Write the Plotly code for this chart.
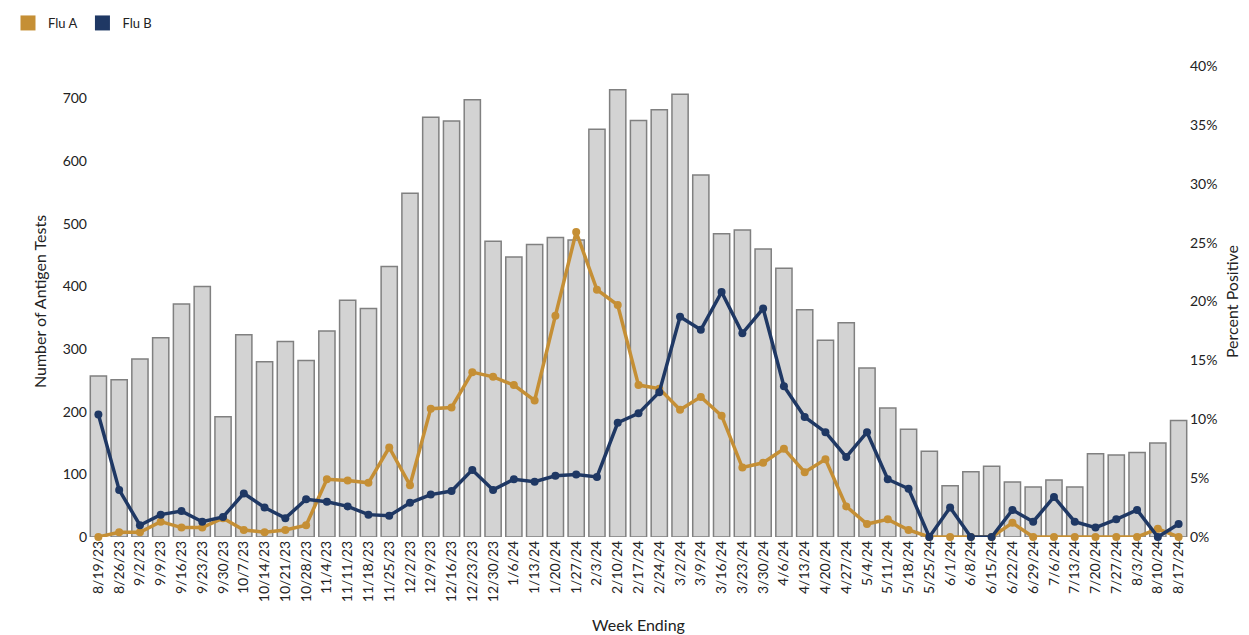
import plotly.graph_objects as go

weeks = ["8/19/23","8/26/23","9/2/23","9/9/23","9/16/23","9/23/23","9/30/23","10/7/23","10/14/23","10/21/23","10/28/23",
         "11/4/23","11/11/23","11/18/23","11/25/23","12/2/23","12/9/23","12/16/23","12/23/23","12/30/23",
         "1/6/24","1/13/24","1/20/24","1/27/24","2/3/24","2/10/24","2/17/24","2/24/24","3/2/24","3/9/24","3/16/24",
         "3/23/24","3/30/24","4/6/24","4/13/24","4/20/24","4/27/24","5/4/24","5/11/24","5/18/24","5/25/24",
         "6/1/24","6/8/24","6/15/24","6/22/24","6/29/24","7/6/24","7/13/24","7/20/24","7/27/24","8/3/24","8/10/24","8/17/24"]
tests = [257,251,284,318,372,400,192,323,280,312,282,329,378,365,432,549,670,664,698,472,
         447,467,478,474,651,714,665,682,707,578,484,490,460,429,363,314,342,270,206,172,137,
         82,104,113,88,80,91,80,133,131,135,150,186]
flu_a = [0,0.4,0.4,1.3,0.8,0.8,1.6,0.6,0.4,0.6,1.0,4.9,4.8,4.6,7.6,4.4,10.9,11.0,14.0,13.6,
         12.9,11.6,18.8,25.9,21.0,19.7,12.9,12.6,10.8,11.9,10.3,5.9,6.3,7.5,5.5,6.6,2.6,1.1,1.5,0.6,0,
         0,0,0,1.2,0,0,0,0,0,0,0.7,0]
flu_b = [10.4,4.0,1.0,1.9,2.2,1.3,1.7,3.7,2.5,1.6,3.2,3.0,2.6,1.9,1.8,2.9,3.6,3.9,5.7,4.0,
         4.9,4.7,5.2,5.3,5.1,9.7,10.5,12.3,18.7,17.6,20.8,17.3,19.4,12.8,10.2,8.9,6.8,8.9,4.9,4.1,0,
         2.5,0,0,2.3,1.3,3.4,1.3,0.8,1.5,2.3,0,1.1]
pct_ticks = [0, 5, 10, 15, 20, 25, 30, 35, 40]

GOLD = "#C58F35"
NAVY = "#1F3864"
FONT = "Lato"

fig = go.Figure()
fig.add_trace(go.Bar(x=weeks, y=tests, marker=dict(color="#D3D3D3", line=dict(color="#808080", width=1.5)),
                     showlegend=False, width=0.78))
fig.add_trace(go.Scatter(x=weeks, y=flu_a, yaxis="y2", mode="lines+markers", line=dict(color=GOLD, width=3.5),
                         marker=dict(size=8, color=GOLD), showlegend=False, cliponaxis=False))
fig.add_trace(go.Scatter(x=weeks, y=flu_b, yaxis="y2", mode="lines+markers", line=dict(color=NAVY, width=3.5),
                         marker=dict(size=8, color=NAVY), showlegend=False, cliponaxis=False))
for name, c in [("Flu A", GOLD), ("Flu B", NAVY)]:
    fig.add_trace(go.Scatter(x=[weeks[0]], y=[None], mode="markers", name=name,
                             marker=dict(symbol="square", size=15, color=c)))

fig.update_layout(
    width=1249, height=635, plot_bgcolor="white", paper_bgcolor="white",
    font=dict(family=FONT, size=13, color="#222"),
    margin=dict(l=80, r=68, t=58, b=106),
    bargap=0.2,
    legend=dict(orientation="h", xref="container", yref="container", x=0.0, y=1.0,
                xanchor="left", yanchor="top", font=dict(size=13)),
    xaxis=dict(title=dict(text="Week Ending", standoff=18), tickangle=-90, showgrid=False, ticks="",
               tickfont=dict(size=14), automargin=False, type="category", range=[-0.5, len(weeks) - 0.5],
               categoryorder="array", categoryarray=weeks),
    yaxis=dict(title=dict(text="Number of Antigen Tests", standoff=12), range=[0, 752],
               tickvals=[0,100,200,300,400,500,600,700], automargin=False,
               showgrid=False, zeroline=False, tickfont=dict(size=14)),
    yaxis2=dict(title=dict(text="Percent Positive", standoff=10), overlaying="y", side="right", range=[0, 40],
                tickvals=pct_ticks, ticktext=[f"{v}%" for v in pct_ticks], showgrid=False, zeroline=False,
                tickfont=dict(size=14), automargin=False),
)
fig.write_html("out.html")
